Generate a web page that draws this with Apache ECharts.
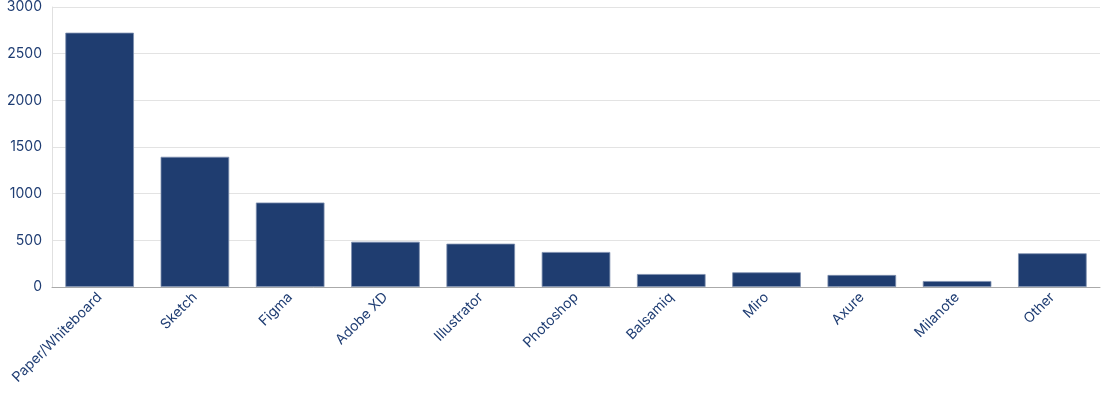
<!DOCTYPE html>
<html><head><meta charset="utf-8">
<script src="https://cdn.jsdelivr.net/npm/echarts@6/dist/echarts.min.js"></script>
<style>html,body{margin:0;padding:0;background:#fff}#c{width:1104px;height:400px}</style>
</head><body><div id="c"></div>
<script>
const categories = ['Paper/Whiteboard','Sketch','Figma','Adobe XD','Illustrator','Photoshop','Balsamiq','Miro','Axure','Milanote','Other'];
const values = [2725, 1395, 905, 485, 464, 375, 139, 157, 129, 64, 361];
const yTicks = [0, 500, 1000, 1500, 2000, 2500, 3000];
const chart = echarts.init(document.getElementById('c'));
chart.setOption({
  animation: false,
  grid: {left: 52, right: 4, top: 7, bottom: 113},
  xAxis: {
    type: 'category', data: categories,
    axisLine: {lineStyle: {color: '#aaaaaa'}},
    axisTick: {show: false},
    axisLabel: {rotate: 45, color: '#1f3d73', fontFamily: 'Inter', fontSize: 14, interval: 0, margin: 8}
  },
  yAxis: {
    type: 'value', min: yTicks[0], max: yTicks[yTicks.length-1], interval: 500,
    axisLine: {show: true, lineStyle: {color: '#e0e0e0'}},
    splitLine: {lineStyle: {color: '#e3e3e3'}},
    axisLabel: {color: '#1f3d73', fontFamily: 'Inter', fontSize: 14, margin: 10, formatter: v => String(v)}
  },
  series: [{
    type: 'bar', data: values, barCategoryGap: '28%',
    itemStyle: {color: '#1f3d70', borderColor: '#7d8fae', borderWidth: 0.8}
  }]
});
</script></body></html>
